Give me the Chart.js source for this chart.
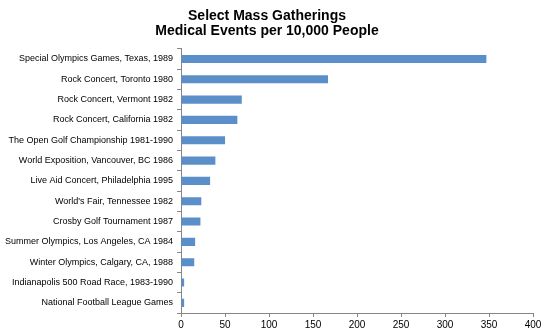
<!DOCTYPE html>
<html>
<head>
<meta charset="utf-8">
<script src="https://cdn.jsdelivr.net/npm/chart.js@4/dist/chart.umd.min.js"></script>
<style>
html,body{margin:0;padding:0;background:#fff;}
#wrap{width:550px;height:335px;position:relative;}
</style>
</head>
<body>
<div id="wrap"><canvas id="c" width="550" height="335"></canvas></div>
<script>
const categories = [
  "Special Olympics Games, Texas, 1989",
  "Rock Concert, Toronto 1980",
  "Rock Concert, Vermont 1982",
  "Rock Concert, California 1982",
  "The Open Golf Championship 1981-1990",
  "World Exposition, Vancouver, BC 1986",
  "Live Aid Concert, Philadelphia 1995",
  "World's Fair, Tennessee 1982",
  "Crosby Golf Tournament 1987",
  "Summer Olympics, Los Angeles, CA 1984",
  "Winter Olympics, Calgary, CA, 1988",
  "Indianapolis 500 Road Race, 1983-1990",
  "National Football League Games"
];
const eventsPer10k = [347, 167, 69, 64, 50, 39, 33, 23, 22, 16, 15, 3.5, 3.5];
const titleLines = ["Select Mass Gatherings", "Medical Events per 10,000 People"];

new Chart(document.getElementById('c'), {
  type: 'bar',
  data: {
    labels: categories,
    datasets: [{
      data: eventsPer10k,
      backgroundColor: '#5B8FC9',
      borderColor: '#6E9BD0',
      borderWidth: 0,
      barPercentage: 0.4,
      categoryPercentage: 1.0
    }]
  },
  options: {
    indexAxis: 'y',
    responsive: false,
    animation: false,
    layout: { padding: { left: 1, right: 17, top: 2, bottom: 2 } },
    plugins: {
      legend: { display: false },
      tooltip: { enabled: false },
      title: {
        display: true,
        text: titleLines,
        color: '#000',
        font: { family: 'Liberation Sans, Arial, sans-serif', size: 14, weight: 'bold', lineHeight: 1.1 },
        padding: { top: 6, bottom: 10 }
      }
    },
    scales: {
      x: {
        min: 0, max: 400,
        ticks: { stepSize: 50, color: '#000', font: { family: 'Liberation Sans, Arial, sans-serif', size: 10 }, padding: 2 },
        grid: { drawOnChartArea: false, drawTicks: true, tickLength: 4, color: '#868686' },
        border: { color: '#868686' }
      },
      y: {
        ticks: { color: '#000', font: { family: 'Liberation Sans, Arial, sans-serif', size: 9 }, padding: 4, autoSkip: false },
        grid: { drawOnChartArea: false, drawTicks: true, tickLength: 4, color: '#868686', offset: true },
        border: { color: '#868686' }
      }
    }
  }
});
</script>
</body>
</html>
